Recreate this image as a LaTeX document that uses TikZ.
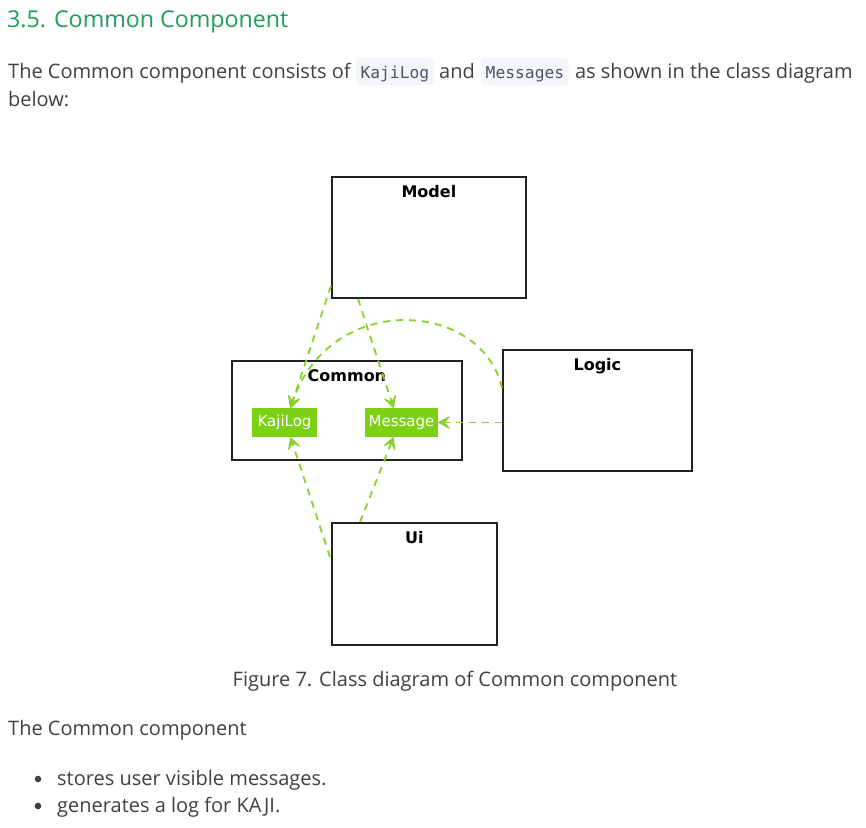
\documentclass[tikz,border=0pt]{standalone}
\usepackage{fontspec}
\setmainfont{Open Sans}
\setmonofont{DejaVu Sans Mono}
\newfontfamily\diagfont{DejaVu Sans}
\usetikzlibrary{arrows.meta,calc}
\definecolor{headgreen}{HTML}{1E9E5A}
\definecolor{bodytext}{HTML}{404040}
\definecolor{codebg}{HTML}{F4F6F9}
\definecolor{codetext}{HTML}{4A5568}
\definecolor{umlgreen}{HTML}{7CD116}
\definecolor{dashgreen}{HTML}{86D12A}
\definecolor{boxline}{HTML}{222222}
\begin{document}
\begin{tikzpicture}[x=1pt,y=-1pt,
  bodystyle/.style={inner sep=0pt,anchor=base west,text=bodytext,font=\fontsize{20}{24}\selectfont},
  codestyle/.style={inner xsep=4.5pt,inner ysep=6pt,text height=14pt,text depth=1pt,fill=codebg,rounded corners=3pt,text=codetext,font=\ttfamily\fontsize{16.3}{18}\selectfont},
  pkgbox/.style={draw=boxline,line width=1.8pt,fill=white,inner sep=0pt,anchor=north west},
  pkgtitle/.style={inner sep=0pt,anchor=base,font=\diagfont\bfseries\fontsize{16}{18}\selectfont},
  classbox/.style={fill=umlgreen,text=white,inner sep=0pt,minimum height=29pt,font=\diagfont\fontsize{15}{17}\selectfont},
  deptip/.tip={Stealth[length=14pt,width=15pt,inset=7pt,line width=1pt,round]},
  dep/.style={draw=dashgreen,line width=1.8pt,dash pattern=on 7pt off 6pt,-deptip}
]
\useasboundingbox (0,0) rectangle (866,827);
\fill[white] (0,0) rectangle (866,827);

% heading
\node[inner sep=0pt,anchor=base west,text=headgreen,font=\fontsize{23.2}{28}\selectfont] (head) at (7,27) {3.5. Common Component};

% intro paragraph
\node[bodystyle] (p1) at (8,78) {The Common component consists of};
\node[codestyle,anchor=base west] (c1) at ($(p1.base east)+(5,0)$) {KajiLog};
\node[bodystyle] (p2) at ($(c1.base east)+(5,0)$) {and};
\node[codestyle,anchor=base west] (c2) at ($(p2.base east)+(6,0)$) {Messages};
\node[bodystyle] (p3) at ($(c2.base east)+(6,0)$) {as shown in the class diagram};
\node[bodystyle] (p4) at (8,106) {below:};

% packages
\node[pkgbox,minimum width=194pt,minimum height=121pt] (model) at (331,176) {};
\node[pkgtitle] (modelt) at ($(model.north)+(0,21.5)$) {Model};

\node[pkgbox,minimum width=230pt,minimum height=99pt] (common) at (231,360) {};
\node[pkgtitle] (commont) at ($(common.north)+(0,21.5)$) {Common};

\node[pkgbox,minimum width=189pt,minimum height=121pt] (logic) at (502,349) {};
\node[pkgtitle] (logict) at ($(logic.north)+(0,21.5)$) {Logic};

\node[pkgbox,minimum width=165pt,minimum height=122pt] (ui) at (331,522) {};
\node[pkgtitle] (uit) at ($(ui.north)+(0,21.5)$) {Ui};

% classes
\node[classbox,minimum width=65pt] (kaji) at (284.5,422.5) {KajiLog};
\node[classbox,minimum width=73pt] (msg) at (401.5,422.5) {Message};

% dependencies
\coordinate (kajitop) at ($(kaji.north)+(6,0)$);
\coordinate (msgtop) at ($(msg.north)+(-8,0)$);
\draw[dep] ($(model.south west)+(0,-13)$) -- (kajitop);
\draw[dep] ($(model.south west)+(27,0)$) -- (msgtop);
\draw[dep] ($(logic.north west)+(0,39)$) .. controls (482,300) and (330,290) .. (kajitop);
\draw[dep] (logic.west |- msg.east) -- (msg.east);
\draw[dep] ($(ui.north west)+(-1,35)$) -- ($(kaji.south)+(6,0)$);
\draw[dep] ($(ui.north west)+(29,0)$) -- ($(msg.south)+(-8,0)$);

% caption and text below
\node[inner sep=0pt,anchor=base,text=bodytext,font=\fontsize{20}{24}\selectfont] (cap) at (455,686) {Figure 7. Class diagram of Common component};
\node[bodystyle] (p5) at (8,735) {The Common component};
\fill[bodytext] (38,779) circle (3.3pt) coordinate (b1);
\node[bodystyle] (l1) at (57,785) {stores user visible messages.};
\fill[bodytext] (38,806) circle (3.3pt) coordinate (b2);
\node[bodystyle] (l2) at (57,812) {generates a log for KAJI.};
\end{tikzpicture}
\end{document}
